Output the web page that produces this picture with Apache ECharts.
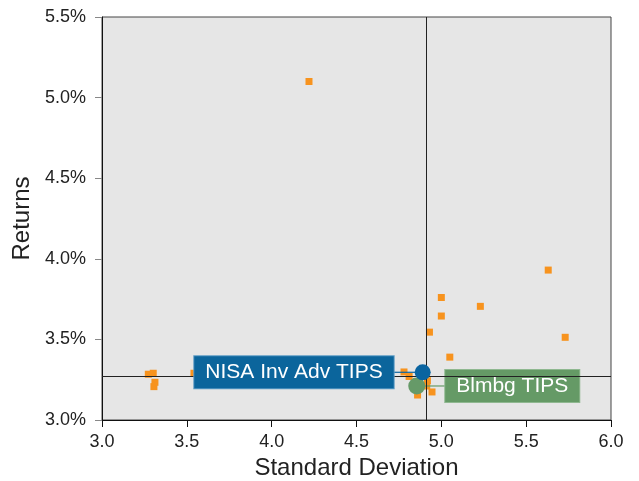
<!DOCTYPE html>
<html>
<head>
<meta charset="utf-8">
<script src="https://cdn.jsdelivr.net/npm/echarts@6/dist/echarts.min.js"></script>
<style>html,body{margin:0;padding:0;background:#fff}#c{width:639px;height:481px}</style>
</head>
<body>
<div id="c"></div>
<script>
// Data
var peerStdDev = [4.22, 5.63, 5.00, 5.23, 5.00, 4.93, 5.73, 5.05, 4.78, 4.81, 4.918, 4.914, 4.86, 4.945, 3.273, 3.302, 3.312, 3.306, 3.542];
var peerReturns = [5.10, 3.93, 3.76, 3.705, 3.645, 3.545, 3.513, 3.39, 3.298, 3.27, 3.244, 3.211, 3.155, 3.174, 3.284, 3.29, 3.234, 3.207, 3.29];
var fundName = 'NISA Inv Adv TIPS';
var fundPoint = [4.89, 3.296];
var benchName = 'Blmbg TIPS';
var benchPoint = [4.855, 3.211];
var medianStdDev = 4.908;
var medianReturn = 3.265;
var xTicks = [3.0, 6.0, 0.5];
var yTicks = [3.0, 5.5, 0.5];

var peerData = peerStdDev.map(function (x, i) { return [x, peerReturns[i]]; });
var font = 'Liberation Sans, Arial, sans-serif';
var fundColor = '#0a64a0';
var benchColor = '#669a68';
// connector: [x, y, pixel length (signed), colour index]
var connectorColors = [fundColor, benchColor];
var connectorData = [[fundPoint[0], fundPoint[1], -30, 0], [benchPoint[0], benchPoint[1], 29, 1]];

var chart = echarts.init(document.getElementById('c'), null, {renderer: 'canvas'});
chart.setOption({
  animation: false,
  textStyle: {fontFamily: font},
  grid: {left: 102, right: 28, top: 17, bottom: 61, containLabel: false, outerBoundsMode: 'none',
         show: true, backgroundColor: '#e6e6e6', borderColor: '#444', borderWidth: 1},
  xAxis: {
    type: 'value', min: xTicks[0], max: xTicks[1], interval: xTicks[2],
    name: 'Standard Deviation', nameLocation: 'middle', nameGap: 36,
    nameTextStyle: {fontSize: 24, color: '#222', fontFamily: font},
    axisLine: {show: true, onZero: false, lineStyle: {color: '#111', width: 1}},
    axisTick: {show: true, length: 7, lineStyle: {color: '#111'}},
    axisLabel: {fontSize: 18, color: '#222', margin: 13, fontFamily: font, formatter: function (v) { return v.toFixed(1); }},
    splitLine: {show: false}
  },
  yAxis: {
    type: 'value', min: yTicks[0], max: yTicks[1], interval: yTicks[2],
    name: 'Returns', nameLocation: 'middle', nameGap: 65,
    nameTextStyle: {fontSize: 24, color: '#222', fontFamily: font},
    axisLine: {show: true, onZero: false, lineStyle: {color: '#111', width: 1}},
    axisTick: {show: true, length: 7, lineStyle: {color: '#888'}},
    axisLabel: {fontSize: 18, color: '#222', margin: 16, fontFamily: font, formatter: function (v) { return v.toFixed(1) + '%'; }},
    splitLine: {show: false}
  },
  series: [
    {
      type: 'scatter', name: 'Peers', data: peerData, symbol: 'rect', symbolSize: 7,
      itemStyle: {color: '#f7931e', opacity: 1}, z: 2,
      markLine: {
        silent: true, symbol: ['none', 'none'], animation: false,
        label: {show: false},
        lineStyle: {color: '#222', width: 1, type: 'solid'},
        emphasis: {disabled: true},
        data: [{xAxis: medianStdDev}, {yAxis: medianReturn}]
      }
    },
    {
      type: 'custom', name: 'connectors', data: connectorData, z: 3, silent: true,
      renderItem: function (params, api) {
        var p = api.coord([api.value(0), api.value(1)]);
        return {
          type: 'line',
          shape: {x1: p[0], y1: p[1], x2: p[0] + api.value(2), y2: p[1]},
          style: {stroke: connectorColors[api.value(3)], lineWidth: 1.2}
        };
      }
    },
    {
      type: 'scatter', name: benchName, data: [benchPoint], symbol: 'circle', symbolSize: 17,
      itemStyle: {color: benchColor, opacity: 1}, z: 4,
      label: {
        show: true, position: 'right', distance: 20, formatter: benchName,
        color: '#fff', fontSize: 21, fontFamily: font,
        backgroundColor: '#659a66', borderColor: '#8fb890', borderWidth: 1,
        padding: [5, 11, 5, 11], lineHeight: 22
      }
    },
    {
      type: 'scatter', name: fundName, data: [fundPoint], symbol: 'circle', symbolSize: 16,
      itemStyle: {color: fundColor, opacity: 1}, z: 5,
      label: {
        show: true, position: 'left', distance: 21, formatter: fundName,
        color: '#fff', fontSize: 21, fontFamily: font,
        backgroundColor: '#0b659c', borderColor: '#5a9ac4', borderWidth: 1,
        padding: [5, 11, 5, 11], lineHeight: 22
      }
    }
  ]
});
</script>
</body>
</html>
